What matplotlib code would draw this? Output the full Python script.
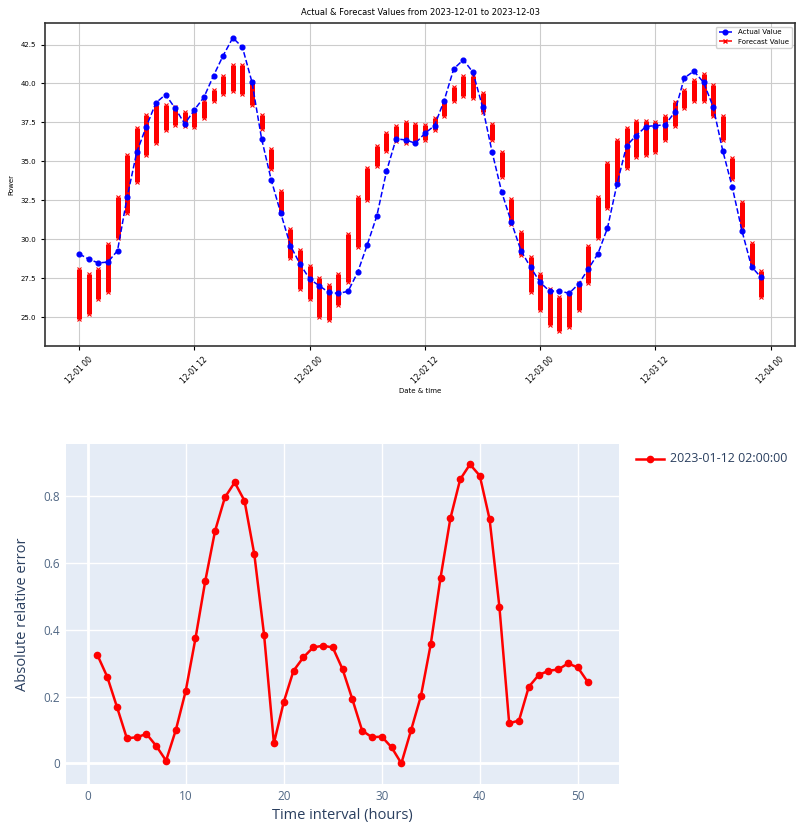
import matplotlib
matplotlib.use("Agg")
import matplotlib.pyplot as plt
import matplotlib.dates as mdates
from matplotlib.lines import Line2D
import numpy as np
import pandas as pd

# ---------------- data: top chart ----------------
start_time = "2023-12-01 00:00"
actual_values = [29.07, 28.74, 28.49, 28.55, 29.28, 32.70, 35.59, 37.24, 38.76, 39.29,
                 38.41, 37.41, 38.31, 39.12, 40.51, 41.79, 42.93, 42.33, 40.08, 36.45,
                 33.82, 31.67, 29.60, 28.42, 27.46, 27.03, 26.60, 26.54, 26.67, 27.89,
                 29.66, 31.52, 34.37, 36.45, 36.38, 36.17, 36.80, 37.30, 38.90, 40.94,
                 41.52, 40.72, 38.50, 35.59, 33.02, 31.10, 29.28, 28.21, 27.24, 26.67,
                 26.71, 26.54, 27.14, 28.10, 29.07, 30.72, 33.56, 36.02, 36.66, 37.24,
                 37.30, 37.35, 38.15, 40.36, 40.79, 40.08, 38.52, 35.70, 33.34, 30.56,
                 28.25, 27.56]
forecast_high = [28.1, 27.8, 28.1, 29.7, 32.7, 35.4, 37.15, 38.0, 38.6, 38.6,
                 38.5, 38.2, 38.2, 38.9, 39.6, 40.5, 41.2, 41.2, 40.1, 38.0,
                 35.8, 33.1, 30.7, 29.3, 28.3, 27.5, 27.1, 27.8, 30.35, 32.7,
                 34.6, 36.0, 36.8, 37.3, 37.5, 37.4, 37.35, 37.8, 38.8, 39.8,
                 40.5, 40.5, 39.4, 37.4, 35.6, 32.6, 30.5, 28.9, 27.8, 26.8,
                 26.3, 26.5, 27.2, 29.6, 32.7, 34.9, 36.4, 37.15, 37.6, 37.6,
                 37.5, 37.9, 38.8, 39.6, 40.2, 40.6, 39.9, 37.9, 35.2, 32.4,
                 29.8, 28.0]
forecast_low = [24.9, 25.2, 26.2, 26.6, 30.1, 31.7, 33.66, 35.4, 36.2, 37.0,
                37.35, 37.3, 37.2, 37.8, 38.9, 39.3, 39.5, 39.3, 38.6, 37.1,
                34.5, 31.7, 28.8, 26.8, 26.2, 25.0, 24.8, 25.8, 27.3, 29.5,
                32.5, 34.7, 35.7, 36.3, 36.2, 36.3, 36.35, 37.0, 37.9, 38.9,
                39.2, 39.1, 38.2, 36.4, 34.0, 31.0, 29.0, 26.6, 25.5, 24.5,
                24.1, 24.4, 25.5, 27.2, 30.1, 32.0, 33.7, 34.6, 35.3, 35.4,
                35.6, 36.4, 37.3, 38.4, 38.9, 38.9, 37.9, 36.4, 33.9, 30.8,
                28.2, 26.3]
top_title = "Actual & Forecast Values from 2023-12-01 to 2023-12-03"
top_xlabel = "Date & time"
top_ylabel = "Power"
legend_labels = ["Actual Value", "Forecast Value"]
top_yticks = [25.0, 27.5, 30.0, 32.5, 35.0, 37.5, 40.0, 42.5]

# ---------------- data: bottom chart ----------------
interval_hours = list(range(1, 52))
rel_error = [0.324, 0.259, 0.168, 0.075, 0.078, 0.088, 0.052, 0.008, 0.100, 0.216,
             0.374, 0.546, 0.696, 0.796, 0.841, 0.786, 0.626, 0.384, 0.060, 0.183,
             0.277, 0.317, 0.347, 0.352, 0.347, 0.282, 0.192, 0.098, 0.078, 0.080,
             0.048, 0.000, 0.100, 0.202, 0.357, 0.556, 0.733, 0.850, 0.895, 0.861,
             0.731, 0.469, 0.120, 0.128, 0.229, 0.264, 0.277, 0.281, 0.299, 0.287,
             0.244]
series_name = "2023-01-12 02:00:00"
bottom_xlabel = "Time interval (hours)"
bottom_ylabel = "Absolute relative error"
bottom_xticks = [0, 10, 20, 30, 40, 50]
bottom_yticks = [0, 0.2, 0.4, 0.6, 0.8]
bottom_ytick_labels = ["0", "0.2", "0.4", "0.6", "0.8"]

# ---------------- figure ----------------
fig = plt.figure(figsize=(7.99, 8.26), dpi=100)

# ----- top (matplotlib style) -----
times = pd.date_range(start_time, periods=len(actual_values), freq="h")
ax1 = fig.add_axes([0.0563, 0.581, 0.939, 0.391])
ax1.vlines(times, forecast_low, forecast_high, color="red", lw=3.6, zorder=2)
ax1.plot(times, forecast_low, "x", color="red", ms=3.2, mew=0.8, zorder=2)
ax1.plot(times, forecast_high, "x", color="red", ms=3.2, mew=0.8, zorder=2)
ax1.plot(times, actual_values, "o--", color="blue", ms=3.4, lw=1.1, zorder=3)
ax1.set_title(top_title, fontsize=6, pad=6)
ax1.set_xlabel(top_xlabel, fontsize=5, labelpad=2)
ax1.set_ylabel(top_ylabel, fontsize=5)
ax1.xaxis.set_major_locator(mdates.HourLocator(byhour=[0, 12]))
ax1.xaxis.set_major_formatter(mdates.DateFormatter("%m-%d %H"))
ax1.set_yticks(top_yticks)
ax1.set_yticklabels([f"{v:.1f}" for v in top_yticks])
ax1.tick_params(axis="y", labelsize=5, length=3)
ax1.tick_params(axis="x", labelsize=5.5, length=3, labelrotation=45)
for lab in ax1.get_xticklabels():
    lab.set_ha("center")
ax1.grid(True, color="#cccccc", lw=0.8)
ax1.margins(x=0.05, y=0.05)
handles = [Line2D([], [], color="blue", marker="o", ls="--", ms=3.4, lw=1.1),
           Line2D([], [], color="red", marker="x", ls="--", ms=3.2, lw=1.1)]
ax1.legend(handles, legend_labels, loc="upper right", fontsize=5, framealpha=0.9)
for s in ax1.spines.values():
    s.set_linewidth(1.2)
    s.set_color("#333333")

# ----- bottom (plotly style) -----
plotly_text = "#2a3f5f"
ax2 = fig.add_axes([0.0822, 0.0508, 0.6925, 0.4117])
ax2.set_facecolor("#E5ECF6")
ax2.plot(interval_hours, rel_error, "-o", color="red", lw=1.8, ms=4.5, zorder=3,
         clip_on=False)
ax2.set_xlim(-2.24, 54.2)
ax2.set_ylim(-0.062, 0.956)
ax2.set_xticks(bottom_xticks)
ax2.set_yticks(bottom_yticks)
ax2.set_yticklabels(bottom_ytick_labels)
ax2.grid(True, color="white", lw=1.0)
ax2.axhline(0, color="white", lw=2, zorder=1)
ax2.axvline(0, color="white", lw=2, zorder=1)
ax2.set_axisbelow(True)
for s in ax2.spines.values():
    s.set_visible(False)
ax2.tick_params(length=0, labelsize=8.5, labelcolor="#506784", pad=4)
for lab in ax2.get_xticklabels() + ax2.get_yticklabels():
    lab.set_family("Open Sans")
ax2.set_xlabel(bottom_xlabel, fontsize=10.5, color=plotly_text, family="Open Sans",
               labelpad=4)
ax2.set_ylabel(bottom_ylabel, fontsize=10.5, color=plotly_text, family="Open Sans",
               labelpad=10)

# plotly-like legend on the right
leg_ax = fig.add_axes([0.0, 0.0, 1.0, 1.0], facecolor="none")
leg_ax.set_axis_off()
leg_ax.set_xlim(0, 799)
leg_ax.set_ylim(826, 0)
leg_ax.plot([636, 664], [459, 459], color="red", lw=1.8)
leg_ax.plot([650], [459], "o", color="red", ms=4.5)
leg_ax.text(670, 459, series_name, fontsize=9, color=plotly_text, family="Open Sans",
            va="center", ha="left")

fig.savefig("out.png", dpi=100)
